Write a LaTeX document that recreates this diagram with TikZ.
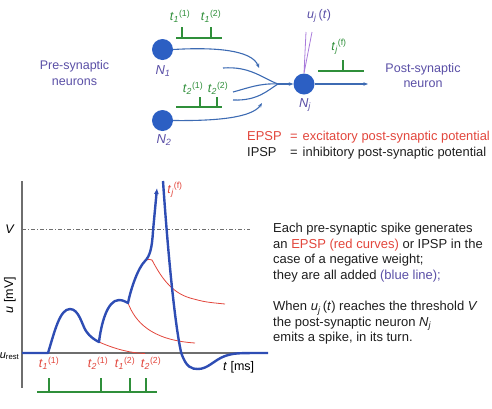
\documentclass[tikz,border=0pt]{standalone}
\usepackage{fontspec}
\setmainfont{Liberation Sans}
\usetikzlibrary{arrows.meta,positioning}
\definecolor{cellblue}{HTML}{2C5FC3}
\definecolor{wire}{HTML}{3D6BB3}
\definecolor{trace}{HTML}{2E4DB4}
\definecolor{violet}{HTML}{5A4FA6}
\definecolor{lilac}{HTML}{A97BDB}
\definecolor{spikegreen}{HTML}{2F8F3A}
\definecolor{epspred}{HTML}{E2463C}
\definecolor{axisgray}{HTML}{6E6E6E}
\definecolor{ink}{HTML}{1E1E1E}
\newcommand{\tspk}[2]{\textit{t}\textsubscript{\textit{#1}}\textsuperscript{(#2)}}
\tikzset{
  neuron/.style={circle,fill=cellblue,minimum size=21pt,inner sep=0pt},
  cell label/.style={text=violet,inner sep=0pt,font=\fontsize{13}{15}\selectfont\itshape},
  group label/.style={text=violet,align=center,inner sep=0pt},
  dendrite/.style={draw=wire,line width=1.1pt},
  synapse/.style={dendrite,-{Stealth[length=4.5pt,width=3.5pt]}},
  train/.style={draw=spikegreen,line width=1.1pt},
  spike tick/.style={draw=spikegreen,line width=2pt},
  spike label/.style={text=spikegreen,inner sep=0pt},
  time label/.style={text=epspred,inner sep=0pt},
  axis/.style={draw=axisgray,line width=1.2pt},
  potential/.style={draw=trace,line width=2.4pt,line join=round},
  epsp curve/.style={draw=epspred,line width=0.8pt},
  legend line/.style={anchor=base west,inner sep=0pt,font=\fontsize{12.9}{15}\selectfont},
  caption/.style={anchor=north west,align=left,text=ink,inner sep=0pt,font=\fontsize{13}{15.6}\selectfont}
}

\begin{document}
\begin{tikzpicture}[x=1pt,y=-1pt,font=\fontsize{12.5}{15.5}\selectfont]
  \useasboundingbox (0,0) rectangle (492,408);

  \node[neuron] (n1) at (162.5,49.5) {};
  \node[neuron] (n2) at (162.5,120.5) {};
  \node[neuron] (nj) at (304,84) {};
  \node[cell label] (n1-name) at (163,71) {N\textsubscript{1}};
  \node[cell label] (n2-name) at (164,140) {N\textsubscript{2}};
  \node[cell label] (nj-name) at (305,105) {N\textsubscript{j}};
  \node[group label,anchor=north] (pre) at (74.5,60.5) {Pre-synaptic\\neurons};
  \node[group label,anchor=north] (post) at (423,63) {Post-synaptic\\neuron};

  \coordinate (syn1) at (259,68);
  \coordinate (syn5) at (262,103);
  \coordinate (in2) at (223,68);
  \coordinate (in3) at (233,92);
  \coordinate (in4) at (233,100);
  \coordinate (hub) at (278,84);
  \coordinate (axon) at (368,84);
  \draw[synapse] (n1.east) .. controls (215,47) and (252,50) .. (syn1);
  \draw[synapse] (n2.east) .. controls (215,121) and (252,118) .. (syn5);
  \draw[dendrite] (in2) .. controls (250,66) and (262,78) .. (hub);
  \draw[dendrite] (in3) .. controls (248,88) and (260,83) .. (hub);
  \draw[dendrite] (in4) .. controls (258,101) and (268,90) .. (hub);
  \draw[synapse] (hub) -- (nj.west);
  \draw[synapse] (nj.east) -- (axon);

  \coordinate (probe-a) at (306,32);
  \coordinate (probe-b) at (312,32);
  \draw[lilac,line width=0.8pt] (probe-a) -- (nj.north) (probe-b) -- (nj.north);
  \node[text=violet] (uj) at (319,16) {\textit{u}\textsubscript{\textit{j}}\,(\textit{t})};

  % input and output spike trains
  \draw[train] (176,38) -- (222,38);
  \foreach \x in {182,211} \draw[spike tick] (\x,27) -- (\x,38);
  \node[spike label] (t11) at (180,16) {\tspk{1}{1}};
  \node[spike label] (t12) at (211,16) {\tspk{1}{2}};
  \draw[train] (176,107) -- (222,107);
  \foreach \x in {200,217} \draw[spike tick] (\x,97) -- (\x,107);
  \node[spike label] (t21) at (193,88) {\tspk{2}{1}};
  \node[spike label] (t22) at (218,88) {\tspk{2}{2}};
  \draw[train] (318,71) -- (364,71);
  \draw[spike tick] (343,60) -- (343,71);
  \node[spike label] (tjf) at (339,47) {\tspk{j}{f}};

  \node[legend line,text=epspred] (epsp-def) at (247,140)
    {\makebox[43pt][l]{EPSP}=\hspace{5pt}excitatory post-synaptic potential};
  \node[legend line,text=ink] (ipsp-def) at (247,156)
    {\makebox[43pt][l]{IPSP}=\hspace{5pt}inhibitory post-synaptic potential};

  % membrane potential
  \draw[axis] (22,181) -- (22,388);
  \draw[axis] (22,353) -- (268,353);
  \draw[axisgray,line width=0.6pt,dash pattern=on 4pt off 2pt on 1pt off 2pt] (22,229) -- (250,229);
  \node[anchor=east,inner sep=0pt] (vth) at (15,229) {\textit{V}};
  \node[anchor=base east,inner sep=0pt,font=\fontsize{11}{13}\selectfont] (urest) at (19.5,358) {\textit{u}\textsubscript{rest}};
  \node[rotate=90,inner sep=0pt] (uaxis) at (10,295) {\textit{u} [mV]};
  \node[anchor=west,inner sep=0pt] (taxis) at (223,367) {\textit{t} [ms]};

  \draw[epsp curve] (99,342) .. controls (115,349) and (130,353) .. (145,353.5);
  \draw[epsp curve] (128,303) .. controls (135,321) and (150,340) .. (195,343);
  \draw[epsp curve] (145,261) .. controls (148,259) and (150,259) .. (152,260)
    .. controls (160,275) and (170,292) .. (190,298) .. controls (205,302) .. (225,304);

  \draw[potential,-{Latex[length=6pt,width=5pt]}] (22,353) -- (48,353)
    .. controls (55,330) and (60,309) .. (70,309)
    .. controls (79,309) and (82,325) .. (86,331)
    .. controls (90,337) and (95,340) .. (99,342)
    .. controls (101,325) and (107,300) .. (119,300)
    .. controls (123,300) and (126,302) .. (128,303)
    .. controls (131,288) and (138,268) .. (145,261)
    .. controls (150,256) and (152,248) .. (153,231)
    -- (157,188);
  \draw[potential] (163,181) .. controls (167,240) and (174,320) .. (181,352)
    .. controls (186,368) and (192,369) .. (198,369)
    .. controls (208,369) and (214,360) .. (225,356)
    .. controls (235,353) .. (268,353);
  \node[time label] (tjf-out) at (175,190) {\tspk{j}{f}};

  \draw[train] (37,392) -- (157,392);
  \foreach \x in {49,101,130,146} \draw[spike tick] (\x,378) -- (\x,392);
  \node[time label] (s11) at (49,363) {\tspk{1}{1}};
  \node[time label] (s21) at (98,363) {\tspk{2}{1}};
  \node[time label] (s12) at (125,363) {\tspk{1}{2}};
  \node[time label] (s22) at (151,363) {\tspk{2}{2}};

  \node[caption] (why) at (273,223) {Each pre-synaptic spike generates\\
    an \textcolor{epspred}{EPSP (red curves)} or IPSP in the\\
    case of a negative weight;\\
    they are all added \textcolor{violet}{(blue line);}};
  \node[caption] (when) at (273,301) {When \textit{u}\textsubscript{\textit{j}}\,(\textit{t}) reaches the threshold \textit{V}\\
    the post-synaptic neuron \textit{N}\textsubscript{\textit{j}}\\
    emits a spike, in its turn.};
\end{tikzpicture}
\end{document}
